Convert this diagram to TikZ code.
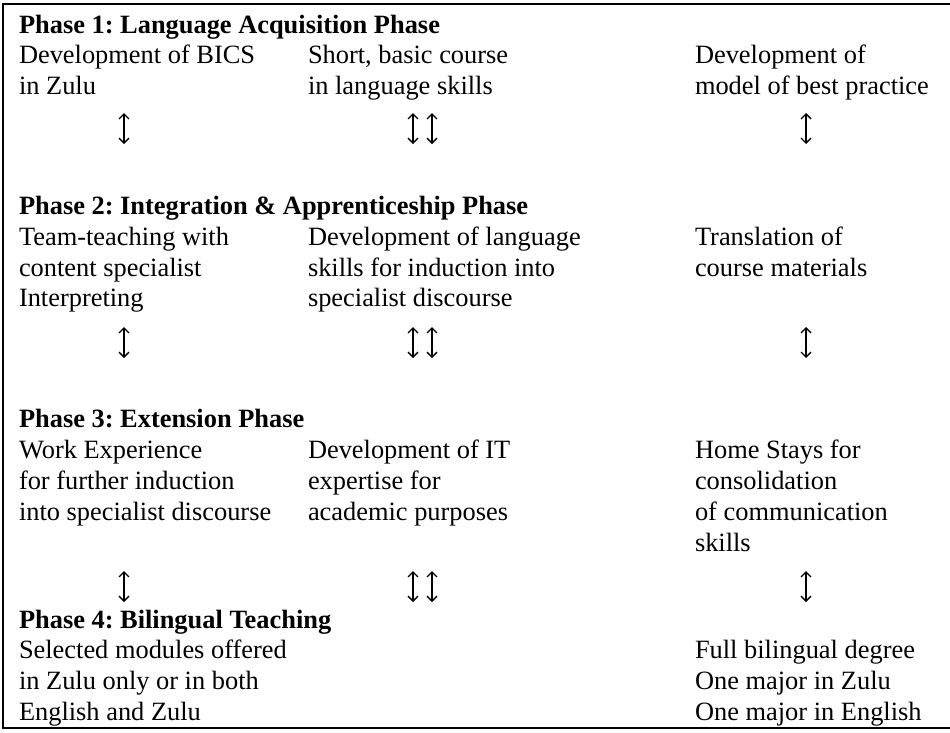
\documentclass[tikz,border=0pt]{standalone}
\usepackage{fontspec}
\setmainfont{Liberation Serif}
\frenchspacing
\usetikzlibrary{arrows.meta}
\tikzset{
  txt/.style={anchor=base west, inner sep=0pt, outer sep=0pt, font=\fontsize{26.4}{30.7}\selectfont},
  hd/.style={txt, font=\fontsize{26.4}{30.7}\selectfont\bfseries},
  updown/.style={line width=1.3pt, {Straight Barb[length=5pt,width=10pt]}-{Straight Barb[length=5pt,width=10pt]}},
  frame/.style={line width=2pt}
}
\begin{document}
\begin{tikzpicture}[x=1pt,y=-1pt]
\useasboundingbox (0,0) rectangle (950,732);
% frame (right side open, cut at the image edge)
\coordinate (ftr) at (951,3.5);
\coordinate (ftl) at (3,3.5);
\coordinate (fbl) at (3,728);
\coordinate (fbr) at (951,728);
\draw[frame] (ftr) -- (ftl) -- (fbl) -- (fbr);

% Phase 1
\node[hd] (h1) at (19,33) {Phase 1: Language Acquisition Phase};
\node[txt] (a11) at (19,63.5) {Development of BICS};
\node[txt] (a12) at (19,94) {in Zulu};
\node[txt] (b11) at (308,63.5) {Short, basic course};
\node[txt] (b12) at (308,94) {in language skills};
\node[txt] (c11) at (695,63.5) {Development of};
\node[txt] (c12) at (695,94) {model of best practice};
\coordinate (a1t) at (124,113); \coordinate (a1b) at (124,144);
\coordinate (b1t) at (413,113); \coordinate (b1b) at (413,144);
\coordinate (b1t2) at (432,113); \coordinate (b1b2) at (432,144);
\coordinate (c1t) at (806,113); \coordinate (c1b) at (806,144);
\draw[updown] (a1t) -- (a1b);
\draw[updown] (b1t) -- (b1b);
\draw[updown] (b1t2) -- (b1b2);
\draw[updown] (c1t) -- (c1b);

% Phase 2
\node[hd] (h2) at (19,214) {Phase 2: Integration \& Apprenticeship Phase};
\node[txt] (a21) at (19,245) {Team-teaching with};
\node[txt] (a22) at (19,276) {content specialist};
\node[txt] (a23) at (19,306.5) {Interpreting};
\node[txt] (b21) at (308,245) {Development of language};
\node[txt] (b22) at (308,276) {skills for induction into};
\node[txt] (b23) at (308,306.5) {specialist discourse};
\node[txt] (c21) at (695,245) {Translation of};
\node[txt] (c22) at (695,276) {course materials};
\coordinate (a2t) at (124,327); \coordinate (a2b) at (124,358);
\coordinate (b2t) at (413,327); \coordinate (b2b) at (413,358);
\coordinate (b2t2) at (432,327); \coordinate (b2b2) at (432,358);
\coordinate (c2t) at (806,327); \coordinate (c2b) at (806,358);
\draw[updown] (a2t) -- (a2b);
\draw[updown] (b2t) -- (b2b);
\draw[updown] (b2t2) -- (b2b2);
\draw[updown] (c2t) -- (c2b);

% Phase 3
\node[hd] (h3) at (19,427) {Phase 3: Extension Phase};
\node[txt] (a31) at (19,458) {Work Experience};
\node[txt] (a32) at (19,489) {for further induction};
\node[txt] (a33) at (19,520) {into specialist discourse};
\node[txt] (b31) at (308,458) {Development of IT};
\node[txt] (b32) at (308,489) {expertise for};
\node[txt] (b33) at (308,520) {academic purposes};
\node[txt] (c31) at (695,458) {Home Stays for};
\node[txt] (c32) at (695,489) {consolidation};
\node[txt] (c33) at (695,520) {of communication};
\node[txt] (c34) at (695,551) {skills};
\coordinate (a3t) at (124,571); \coordinate (a3b) at (124,602);
\coordinate (b3t) at (413,571); \coordinate (b3b) at (413,602);
\coordinate (b3t2) at (432,571); \coordinate (b3b2) at (432,602);
\coordinate (c3t) at (806,571); \coordinate (c3b) at (806,602);
\draw[updown] (a3t) -- (a3b);
\draw[updown] (b3t) -- (b3b);
\draw[updown] (b3t2) -- (b3b2);
\draw[updown] (c3t) -- (c3b);

% Phase 4
\node[hd] (h4) at (19,628) {Phase 4: Bilingual Teaching};
\node[txt] (a41) at (19,658) {Selected modules offered};
\node[txt] (a42) at (19,689.5) {in Zulu only or in both};
\node[txt] (a43) at (19,720) {English and Zulu};
\node[txt] (c41) at (695,658) {Full bilingual degree};
\node[txt] (c42) at (695,689.5) {One major in Zulu};
\node[txt] (c43) at (695,720) {One major in English};
\end{tikzpicture}
\end{document}
